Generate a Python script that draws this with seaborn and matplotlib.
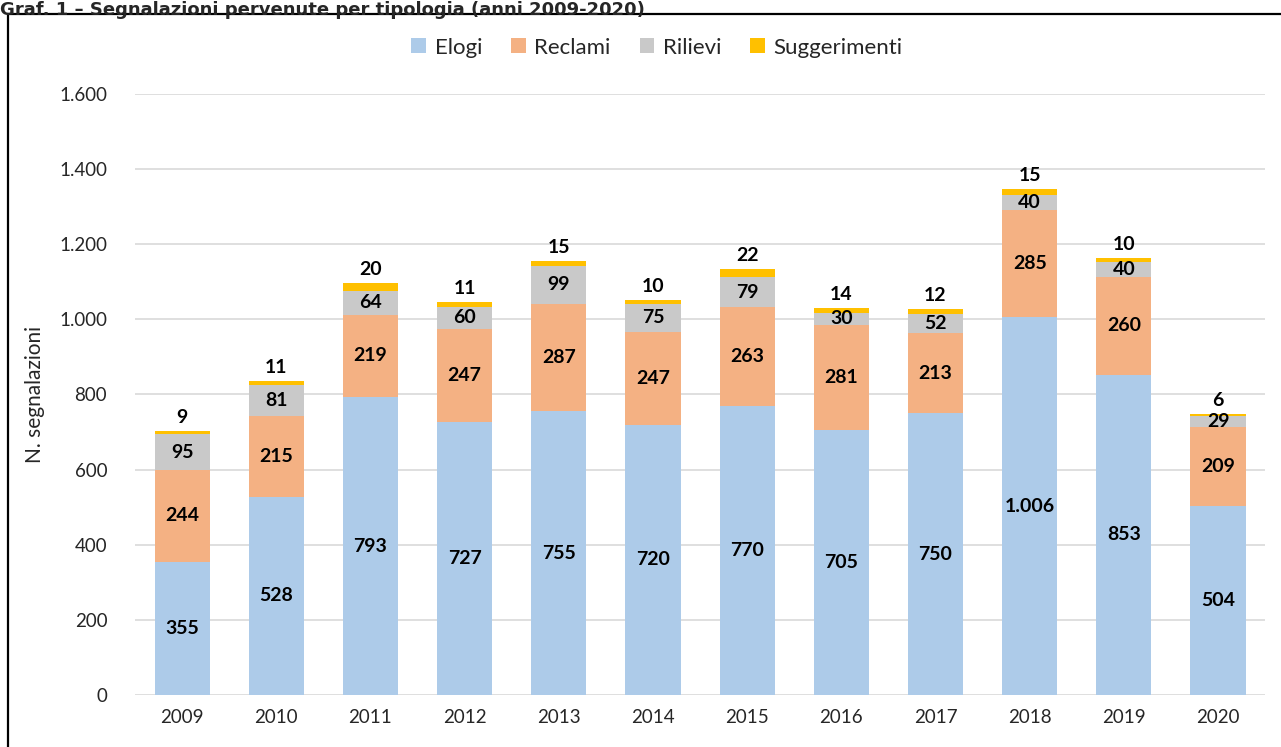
import numpy as np
import pandas as pd
import seaborn as sns
import matplotlib.pyplot as plt
from matplotlib.ticker import FuncFormatter
from matplotlib.patches import Rectangle

###### Dati ######
anni = ['2009', '2010', '2011', '2012', '2013', '2014', '2015', '2016', '2017', '2018', '2019', '2020']
elogi = [355, 528, 793, 727, 755, 720, 770, 705, 750, 1006, 853, 504]
reclami = [244, 215, 219, 247, 287, 247, 263, 281, 213, 285, 260, 209]
rilievi = [95, 81, 64, 60, 99, 75, 79, 30, 52, 40, 40, 29]
suggerimenti = [9, 11, 20, 11, 15, 10, 22, 14, 12, 15, 10, 6]

serie = ['Elogi', 'Reclami', 'Rilievi', 'Suggerimenti']
valori = [elogi, reclami, rilievi, suggerimenti]
colori = ['#ADCBE9', '#F4B183', '#C9C9C9', '#FFC000']

def fmt_migliaia(v):
    return '{:,.0f}'.format(v).replace(',', '.')

sns.set_theme(style='white')
plt.rcParams['font.family'] = ['Lato', 'DejaVu Sans']

fig = plt.figure(figsize=(12.81, 7.47), dpi=100)
ax = fig.add_axes([0.1054, 0.0696, 0.8822, 0.8046])

# barre impilate
base = np.zeros(len(anni))
for nome, val, col in zip(serie, valori, colori):
    df = pd.DataFrame({'anno': anni, 'valore': val})
    sns.barplot(data=df, x='anno', y='valore', color=col, bottom=base,
                width=0.585, label=nome, ax=ax, saturation=1, linewidth=0)
    base = base + np.array(val)

# etichette dei valori
base = np.zeros(len(anni))
for k, val in enumerate(valori):
    for i, v in enumerate(val):
        if k < 3:
            ax.text(i, base[i] + v / 2, fmt_migliaia(v), ha='center', va='center',
                    fontsize=14, fontweight='bold', color='black')
        else:
            ax.text(i, base[i] + v + 14, fmt_migliaia(v), ha='center', va='bottom',
                    fontsize=14, fontweight='bold', color='black')
    base = base + np.array(val)

ax.set_ylim(0, 1600)
ax.set_xlim(-0.5, len(anni) - 0.5)
ax.set_yticks(range(0, 1601, 200))
ax.yaxis.set_major_formatter(FuncFormatter(lambda v, p: fmt_migliaia(v)))
ax.grid(axis='y', color='#D9D9D9', linewidth=1.2)
ax.set_axisbelow(True)
for s in ax.spines.values():
    s.set_visible(False)
ax.tick_params(axis='both', length=0, labelsize=13.5, colors='#262626')
ax.tick_params(axis='x', pad=10)
ax.tick_params(axis='y', pad=20)
ax.set_xlabel('')
ax.set_ylabel('N. segnalazioni', fontsize=15, color='#262626', labelpad=10)

leg = ax.legend(loc='center', bbox_to_anchor=(0.462, 1.077), ncol=4, frameon=False,
                fontsize=16, handlelength=0.65, handleheight=0.65, handletextpad=0.4,
                columnspacing=1.3)

# cornice del grafico
fig.patches.append(Rectangle((0.0065, -0.01), 0.999, 0.991, transform=fig.transFigure,
                             fill=False, edgecolor='black', linewidth=1.6))
fig.text(0.0, 0.999, 'Graf. 1 – Segnalazioni pervenute per tipologia (anni 2009-2020)',
         ha='left', va='top', fontsize=13, fontweight='bold', family=['DejaVu Sans'])

plt.savefig('out.png', dpi=100)
plt.close()
